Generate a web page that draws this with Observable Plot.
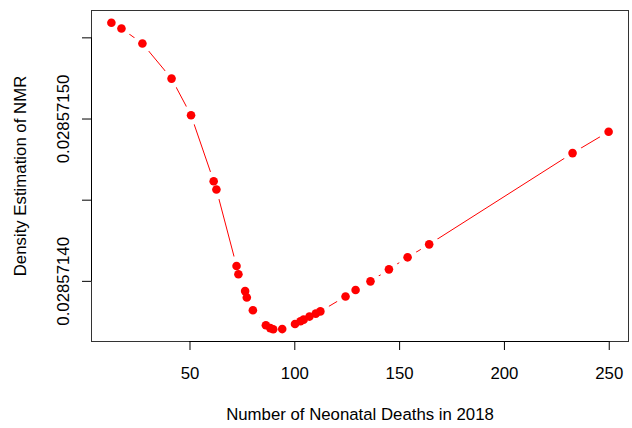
<!DOCTYPE html>
<html>
<head>
<meta charset="utf-8">
<script src="https://cdn.jsdelivr.net/npm/d3@7"></script>
<script src="https://cdn.jsdelivr.net/npm/@observablehq/plot@0.6"></script>
<style>
  html, body { margin: 0; padding: 0; background: white; }
</style>
</head>
<body>
<div id="chart"></div>
<script>
const deaths = [12.5, 17.3, 27.3, 41.2, 50.5, 61.3, 62.6, 72.2, 73.1, 76.3, 77.1, 80.0, 86.2, 88.3, 89.7, 94.0,
  100.1, 102.7, 104.2, 107.0, 110.0, 112.2, 124.2, 129.0, 136.1, 144.9, 153.8, 164.1, 232.5, 249.7];
const density = [0.0285715593, 0.0285715558, 0.0285715465, 0.0285715249, 0.0285715023, 0.0285714617,
  0.0285714566, 0.0285714095, 0.0285714044, 0.0285713940, 0.0285713901, 0.0285713822, 0.0285713730,
  0.0285713712, 0.0285713705, 0.0285713706, 0.0285713737, 0.0285713754, 0.0285713764, 0.0285713783,
  0.0285713801, 0.0285713815, 0.0285713907, 0.0285713947, 0.0285714000, 0.0285714074, 0.0285714148,
  0.0285714228, 0.0285714790, 0.0285714922];
const xTicks = [50, 100, 150, 200, 250];
const yTicks = [0.02857140, 0.02857145, 0.02857150, 0.02857155];
const yLabelTicks = [0.02857140, 0.02857150];
const xTitle = "Number of Neonatal Deaths in 2018";
const yTitle = "Density Estimation of NMR";

const data = deaths.map((d, i) => ({x: d, y: density[i]}));

// R-style 4% padding of the data range
function padded(values) {
  const [lo, hi] = d3.extent(values);
  const p = (hi - lo) * 0.04;
  return [lo - p, hi + p];
}
const xDomain = padded(deaths);
const yDomain = padded(density);
const fs = 16.8;

const chart = Plot.plot({
  width: 632,
  height: 428,
  marginLeft: 91,
  marginRight: 4,
  marginTop: 10,
  marginBottom: 87,
  style: {fontFamily: "'Liberation Sans', Arial, sans-serif", fontSize: fs + "px", background: "white", color: "black"},
  x: {domain: xDomain},
  y: {domain: yDomain},
  marks: [
    Plot.frame({stroke: "#333"}),
    Plot.axisX(xTicks, {tickSize: 9, tickPadding: 17, label: null, fontSize: fs, tickFormat: d => String(d)}),
    Plot.ruleY([yDomain[0]], {x1: xTicks[0], x2: xTicks[xTicks.length - 1], stroke: "black"}),
    Plot.axisY(yTicks, {tickSize: 9, label: null, tickFormat: () => ""}),
    Plot.ruleX([xDomain[0]], {y1: yTicks[0], y2: yTicks[yTicks.length - 1], stroke: "black"}),
    Plot.text(yLabelTicks, {y: d => d, text: d => d3.format(".8f")(d), frameAnchor: "left", dx: -22.7,
      rotate: -90, textAnchor: "middle", lineAnchor: "bottom", fontSize: fs, fill: "black"}),
    Plot.text([yTitle], {frameAnchor: "left", dx: -71, rotate: -90, textAnchor: "middle", lineAnchor: "middle", fontSize: fs, fill: "black"}),
    Plot.text([xTitle], {frameAnchor: "bottom", dy: 73, textAnchor: "middle", lineAnchor: "middle", fontSize: fs, fill: "black"}),
    Plot.line(data, {x: "x", y: "y", stroke: "red", strokeWidth: 1}),
    Plot.dot(data, {x: "x", y: "y", r: 10, fill: "white"}),
    Plot.dot(data, {x: "x", y: "y", r: 4.3, fill: "red"})
  ]
});
document.getElementById("chart").appendChild(chart);
</script>
</body>
</html>
